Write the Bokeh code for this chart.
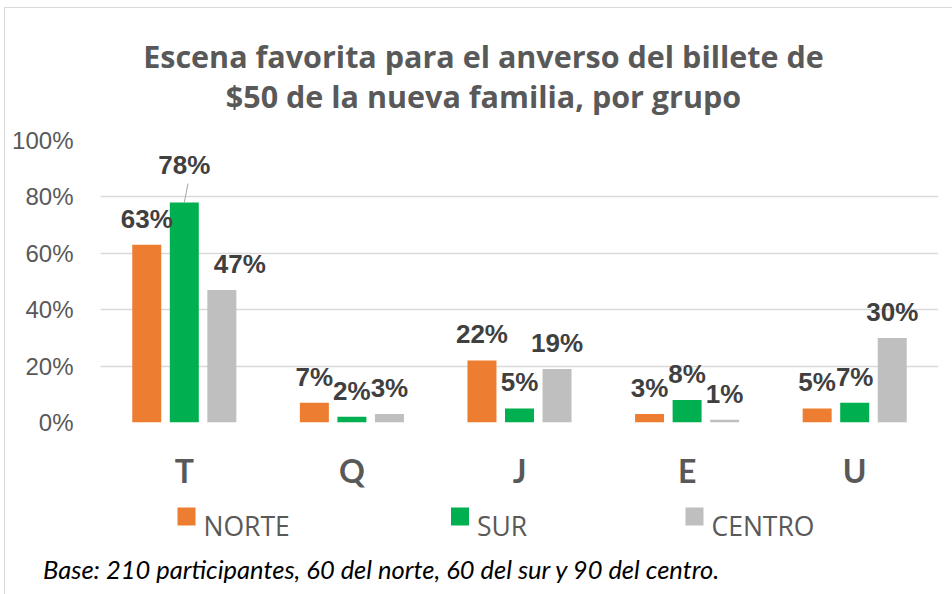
from bokeh.plotting import figure
from bokeh.layouts import column
from bokeh.models import (FactorRange, Range1d, FixedTicker, NumeralTickFormatter,
                          ColumnDataSource, LabelSet, Div)
from bokeh.transform import dodge
from bokeh.core.properties import value
from bokeh.embed import file_html
from bokeh.resources import INLINE

# ---------------- data ----------------
categories = ["T", "Q", "J", "E", "U"]
norte = [0.63, 0.07, 0.22, 0.03, 0.05]
sur = [0.78, 0.02, 0.05, 0.08, 0.07]
centro = [0.47, 0.03, 0.19, 0.01, 0.30]
series_names = ["NORTE", "SUR", "CENTRO"]
y_ticks = [0, 0.2, 0.4, 0.6, 0.8, 1.0]
title_lines = ["Escena favorita para el anverso del billete de",
               "$50 de la nueva familia, por grupo"]
footnote = "Base: 210 participantes, 60 del norte, 60 del sur y 90 del centro."

# ---------------- styles / layout ----------------
colors = ["#ED7D31", "#00B050", "#BFBFBF"]
offsets = [-0.224, 0.0, 0.224]
bar_width = 0.173
W = 945
HT, HM, HB, HF = 118, 368, 51, 48
ML, MR, MT, MB = 95, 12, 14, 72
FRAME_H = HM - MT - MB
label_dx = {"norte": [0, 0, 0, 0, 0], "sur": [0, 0, 0, 0, 0], "centro": [18, 0, 0, 0, 0]}
label_dy = {"norte": [17] * 5, "sur": [29, 17, 17, 17, 17], "centro": [17] * 5}
title_x, title_baselines = 478, [47, 87]
legend_sq_left = [172, 445.5, 680]
legend_sq_size, legend_gap, legend_mid, legend_base = 18, 8, 22, 31


def blank_fig(h):
    # same side borders as the chart, so the frames line up in the column;
    # x coordinates are pixels from the left edge of the layout
    f = figure(width=W, height=h, x_range=Range1d(ML, W - MR), y_range=Range1d(h, 0),
               output_backend="svg", toolbar_location=None,
               x_axis_location=None, y_axis_location=None,
               min_border_left=ML, min_border_right=MR, min_border_top=0, min_border_bottom=0)
    f.grid.visible = False
    f.outline_line_color = None
    f.background_fill_color = "white"
    f.border_fill_color = "white"
    return f


# ---------------- title ----------------
ft = blank_fig(HT)
ft.text(x=[title_x] * len(title_lines), y=title_baselines, text=title_lines,
        text_align="center", text_baseline="alphabetic",
        text_font=value("Open Sans"), text_font_style="bold",
        text_font_size="30.5px", text_color="#595959")

# ---------------- main chart ----------------
keys = ["norte", "sur", "centro"]
vals = {"norte": norte, "sur": sur, "centro": centro}
data = dict(cat=categories)
for k in keys:
    data[k] = vals[k]
    data[k + "_lbl"] = [f"{round(v * 100)}%" for v in vals[k]]
    data[k + "_dx"] = label_dx[k]
    data[k + "_dy"] = label_dy[k]
src = ColumnDataSource(data)

p = figure(width=W, height=HM,
           x_range=FactorRange(factors=categories, range_padding=0),
           y_range=Range1d(0, 1.0),
           output_backend="svg", toolbar_location=None,
           min_border_left=ML, min_border_right=MR,
           min_border_top=MT, min_border_bottom=MB)
p.outline_line_color = None
p.background_fill_color = "white"
p.border_fill_color = "white"

p.xgrid.grid_line_color = None
p.ygrid.grid_line_color = "#d9d9d9"
p.ygrid.grid_line_width = 1.5
p.ygrid.ticker = FixedTicker(ticks=y_ticks)

p.yaxis.ticker = FixedTicker(ticks=y_ticks)
p.yaxis.formatter = NumeralTickFormatter(format="0%")
p.yaxis.axis_line_color = None
p.yaxis.major_tick_line_color = None
p.yaxis.minor_tick_line_color = None
p.yaxis.major_tick_out = 0
p.yaxis.major_label_text_font = "Liberation Sans"
p.yaxis.major_label_text_font_size = "24px"
p.yaxis.major_label_text_color = "#595959"
p.yaxis.major_label_standoff = 27

p.xaxis.axis_line_color = None
p.xaxis.major_tick_line_color = None
p.xaxis.minor_tick_line_color = None
p.xaxis.major_tick_out = 0
p.xaxis.major_label_text_font = "Lato"
p.xaxis.major_label_text_font_style = "bold"
p.xaxis.major_label_text_font_size = "32px"
p.xaxis.major_label_text_color = "#595959"
p.xaxis.major_label_standoff = 28

for k, off, c in zip(keys, offsets, colors):
    p.vbar(x=dodge("cat", off, range=p.x_range), top=k, width=bar_width,
           source=src, fill_color=c, line_color=None)
    p.add_layout(LabelSet(x=dodge("cat", off, range=p.x_range), y=k, text=k + "_lbl",
                          x_offset=k + "_dx", y_offset=k + "_dy", source=src,
                          text_align="center", text_baseline="alphabetic",
                          text_font=value("Liberation Sans"), text_font_style="bold",
                          text_font_size="26px", text_color="#404040"))

lead = ColumnDataSource(dict(cat=[categories[0]], y0=[sur[0]], y1=[sur[0] + 19 / FRAME_H]))
p.segment(x0=dodge("cat", offsets[1], range=p.x_range),
          x1=dodge("cat", offsets[1] + 0.022, range=p.x_range),
          y0="y0", y1="y1", source=lead, line_color="#a6a6a6", line_width=1)

# ---------------- legend ----------------
fb = blank_fig(HB)
sq_x = [v + legend_sq_size / 2 for v in legend_sq_left]
fb.rect(x=sq_x, y=[legend_mid] * 3, width=legend_sq_size, height=legend_sq_size,
        fill_color=colors, line_color=None)
fb.text(x=[v + legend_sq_size + legend_gap for v in legend_sq_left], y=[legend_base] * 3,
        text=series_names, text_align="left", text_baseline="alphabetic",
        text_font=value("Open Sans"), text_font_size="26.5px", text_color="#595959")

# ---------------- footnote ----------------
foot = Div(text=footnote, width=W, height=HF,
           styles={"font-family": "Lato", "font-style": "italic", "font-size": "25.5px",
                   "line-height": "30px", "color": "#000000", "white-space": "nowrap",
                   "padding-left": "33px", "padding-top": "4px",
                   "box-sizing": "border-box", "background-color": "white"})

layout = column(ft, p, fb, foot, spacing=0)
layout.styles = {"border-left": "1px solid #d9d9d9", "border-top": "1px solid #d9d9d9",
                 "margin-left": "4px", "margin-top": "7px"}

open("out.html", "w").write(file_html(layout, INLINE))
